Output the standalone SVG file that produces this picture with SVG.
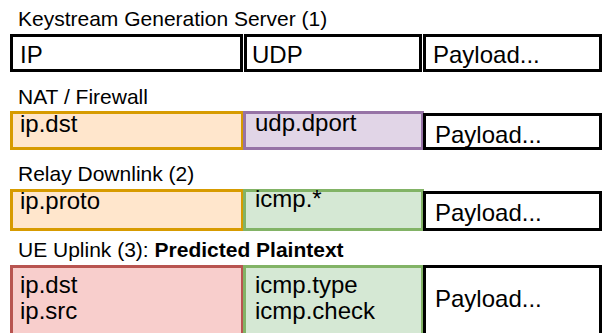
<svg xmlns="http://www.w3.org/2000/svg" width="603" height="333" viewBox="0 0 603 333">
<style>
text{font-family:"Liberation Sans",Arial,sans-serif;fill:#000}
.lbl{font-size:21px}
.f{font-size:24px}
.k{fill:#fff;stroke:#000;stroke-width:3}
.o{fill:#ffe6cc;stroke:#d79b00;stroke-width:3}
.p{fill:#e1d5e7;stroke:#9673a6;stroke-width:3}
.g{fill:#d5e8d4;stroke:#82b366;stroke-width:3}
.r{fill:#f8cecc;stroke:#b85450;stroke-width:3}
</style>
<rect width="603" height="333" fill="#fff"/>
<g id="row1">
<text class="lbl" x="18" y="26">Keystream Generation Server (1)</text>
<g id="r1-ip"><rect class="k" x="11.5" y="35.5" width="230" height="35"/><text class="f" x="20" y="63">IP</text></g>
<g id="r1-udp"><rect class="k" x="245.5" y="35.5" width="175" height="35"/><text class="f" x="252" y="63">UDP</text></g>
<g id="r1-pay"><rect class="k" x="424.5" y="35.5" width="176" height="35"/><text class="f" x="433" y="63">Payload...</text></g>
</g>
<g id="row2">
<text class="lbl" x="18" y="104">NAT / Firewall</text>
<g id="r2-ip"><rect class="o" x="11.5" y="112.5" width="231" height="36"/><text class="f" x="20" y="132">ip.dst</text></g>
<g id="r2-udp"><rect class="p" x="244.5" y="112.5" width="178" height="36"/><text class="f" x="255" y="131">udp.dport</text></g>
<g id="r2-pay"><rect class="k" x="424.5" y="114.5" width="176" height="34"/><text class="f" x="435" y="143">Payload...</text></g>
</g>
<g id="row3">
<text class="lbl" x="18" y="181">Relay Downlink (2)</text>
<g id="r3-ip"><rect class="o" x="11.5" y="190.5" width="231" height="39"/><text class="f" x="20" y="209">ip.proto</text></g>
<g id="r3-icmp"><rect class="g" x="244.5" y="190.5" width="178" height="39"/><text class="f" x="255" y="207">icmp.*</text></g>
<g id="r3-pay"><rect class="k" x="424.5" y="192.5" width="176" height="37"/><text class="f" x="435" y="221">Payload...</text></g>
</g>
<g id="row4">
<text class="lbl" x="18" y="257">UE Uplink (3): <tspan font-weight="bold">Predicted Plaintext</tspan></text>
<g id="r4-ip"><rect class="r" x="11.5" y="266.5" width="231" height="70"/><text class="f" x="20" y="293">ip.dst</text><text class="f" x="20" y="319">ip.src</text></g>
<g id="r4-icmp"><rect class="g" x="244.5" y="266.5" width="178" height="70"/><text class="f" x="255" y="293">icmp.type</text><text class="f" x="255" y="319">icmp.check</text></g>
<g id="r4-pay"><rect class="k" x="424.5" y="266.5" width="176" height="70"/><text class="f" x="435" y="307">Payload...</text></g>
</g>
<g id="connectors"/>
</svg>
